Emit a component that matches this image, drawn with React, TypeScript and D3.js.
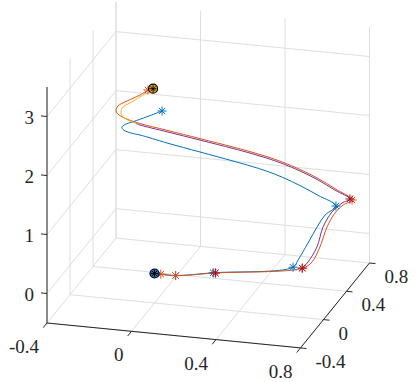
import React from "react";
import * as d3 from "d3";

type P3 = [number, number, number];

// axis limits and ticks
const xLim = [-0.4, 0.8];
const yLim = [-0.4, 0.8];
const zLim = [-0.5, 3.5];
const xTicks = [-0.4, 0, 0.4, 0.8];
const yTicks = [-0.4, 0, 0.4, 0.8];
const zTicks = [0, 1, 2, 3];

// trajectories (x, y, z)
const bluePath: P3[] = [
  [0, 0, 0], [0.1, 0, 0], [0.255, 0.085, 0], [0.585, 0.26, 0],
  [0.606, 0.27, 0.118], [0.645, 0.3, 0.384], [0.677, 0.34, 0.618],
  [0.704, 0.38, 0.783], [0.739, 0.44, 0.876], [0.661, 0.416, 1.059],
  [0.582, 0.391, 1.227], [0.508, 0.368, 1.364], [0.438, 0.346, 1.473],
  [0.364, 0.323, 1.566], [0.29, 0.3, 1.649], [0.146, 0.255, 1.805],
  [0.002, 0.21, 1.961], [-0.116, 0.174, 2.098], [-0.16, 0.16, 2.138],
  [-0.19, 0.15, 2.194], [-0.195, 0.15, 2.235], [-0.18, 0.15, 2.282],
  [-0.142, 0.15, 2.343], [-0.076, 0.15, 2.451], [-0.005, 0.15, 2.573],
];

const orangePath: P3[] = [
  [0, 0, 0], [0.03, 0, 0], [0.1, 0, 0], [0.265, 0.085, 0], [0.63, 0.26, 0],
  [0.672, 0.27, 0.108], [0.704, 0.29, 0.349], [0.727, 0.33, 0.648],
  [0.751, 0.38, 0.834], [0.773, 0.44, 0.905], [0.799, 0.5, 0.927],
  [0.725, 0.477, 1.12], [0.651, 0.453, 1.296], [0.572, 0.429, 1.45],
  [0.498, 0.405, 1.574], [0.428, 0.384, 1.67], [0.354, 0.36, 1.759],
  [0.28, 0.337, 1.838], [0.136, 0.292, 1.984], [-0.008, 0.247, 2.128],
  [-0.126, 0.21, 2.246], [-0.172, 0.17, 2.346], [-0.206, 0.14, 2.446],
  [-0.215, 0.12, 2.535], [-0.2, 0.1, 2.649], [-0.157, 0.1, 2.748],
  [-0.096, 0.1, 2.872], [-0.058, 0.1, 2.97],
];

const yellowPath: P3[] = [
  [-0.039, 0.1, 2.96], [-0.082, 0.1, 2.877], [-0.134, 0.1, 2.74],
  [-0.176, 0.1, 2.64], [-0.191, 0.12, 2.526], [-0.19, 0.15, 2.406],
  [-0.142, 0.2, 2.253],
];

const purplePath: P3[] = [
  [-0.142, 0.2, 2.253], [-0.126, 0.21, 2.221], [-0.008, 0.247, 2.103],
  [0.136, 0.292, 1.959], [0.28, 0.337, 1.813], [0.354, 0.36, 1.734],
  [0.428, 0.384, 1.645], [0.498, 0.405, 1.549], [0.572, 0.429, 1.425],
  [0.651, 0.453, 1.271], [0.725, 0.477, 1.095], [0.789, 0.5, 0.941],
  [0.768, 0.44, 0.937], [0.737, 0.38, 0.846], [0.708, 0.33, 0.641],
  [0.69, 0.29, 0.344], [0.653, 0.27, 0.101], [0.628, 0.26, 0],
];

// waypoint markers
const blueStars: P3[] = [
  [0.1, 0, 0], [0.255, 0.085, 0], [0.585, 0.26, 0], [0.739, 0.44, 0.876], [-0.005, 0.15, 2.573],
];
const orangeStars: P3[] = [
  [0.03, 0, 0], [0.1, 0, 0], [0.265, 0.085, 0], [0.63, 0.26, 0], [0.799, 0.5, 0.927], [-0.058, 0.1, 2.97],
];
const purpleStars: P3[] = [[0.265, 0.085, 0], [0.628, 0.26, 0], [0.789, 0.5, 0.941]];
const startPoint: P3 = [0, 0, 0];
const goalPoint: P3 = [-0.034, 0.1, 3.0];

// view: screen position of the (xmin, ymin, zmin) corner and axis spans
const ORIGIN = [47, 323];
const EX = [253.5, 24.9];
const EY = [69, -84.9];
const EZ = [0, -236];

const sx = d3.scaleLinear().domain(xLim).range([0, 1]);
const sy = d3.scaleLinear().domain(yLim).range([0, 1]);
const sz = d3.scaleLinear().domain(zLim).range([0, 1]);

const project = (p: P3): [number, number] => {
  const a = sx(p[0]), b = sy(p[1]), c = sz(p[2]);
  return [
    ORIGIN[0] + a * EX[0] + b * EY[0] + c * EZ[0],
    ORIGIN[1] + a * EX[1] + b * EY[1] + c * EZ[1],
  ];
};

const unit = (v: number[]) => {
  const l = Math.hypot(v[0], v[1]);
  return [v[0] / l, v[1] / l];
};

const line = d3.line<P3>()
  .x((d) => project(d)[0])
  .y((d) => project(d)[1])
  .curve(d3.curveCatmullRom.alpha(0.5));

const FONT = '"Times New Roman", Tinos, "Liberation Serif", "DejaVu Serif", serif';
const GRID = "#dedede";
const AX = "#262626";

const Star = ({ p, color, r = 4.5 }: { p: P3; color: string; r?: number }) => {
  const [cx, cy] = project(p);
  const d = r * 0.7071;
  return (
    <g stroke={color} strokeWidth={1}>
      <line x1={cx - r} y1={cy} x2={cx + r} y2={cy} />
      <line x1={cx} y1={cy - r} x2={cx} y2={cy + r} />
      <line x1={cx - d} y1={cy - d} x2={cx + d} y2={cy + d} />
      <line x1={cx - d} y1={cy + d} x2={cx + d} y2={cy - d} />
    </g>
  );
};

export default function App() {
  const [x0, x1] = xLim;
  const [y0, y1] = yLim;
  const [z0, z1] = zLim;

  const grid: [P3, P3][] = [];
  xTicks.forEach((x) => {
    grid.push([[x, y0, z0], [x, y1, z0]]);
    grid.push([[x, y1, z0], [x, y1, z1]]);
  });
  yTicks.forEach((y) => {
    grid.push([[x0, y, z0], [x1, y, z0]]);
    grid.push([[x0, y, z0], [x0, y, z1]]);
  });
  zTicks.forEach((z) => {
    grid.push([[x0, y1, z], [x1, y1, z]]);
    grid.push([[x0, y0, z], [x0, y1, z]]);
  });

  const axes: [P3, P3][] = [
    [[x0, y0, z0], [x1, y0, z0]],
    [[x1, y0, z0], [x1, y1, z0]],
    [[x0, y0, z0], [x0, y0, z1]],
  ];

  const tl = 6;
  const dX = unit([-EY[0], -EY[1]]);
  const dY = unit(EX);
  const dZ = unit([-EX[0], -EX[1]]);

  const seg = (a: P3, b: P3, key: string, stroke: string) => {
    const [ax, ay] = project(a);
    const [bx, by] = project(b);
    return <line key={key} x1={ax} y1={ay} x2={bx} y2={by} stroke={stroke} strokeWidth={1} />;
  };

  const [sxp, syp] = project(startPoint);
  const [gxp, gyp] = project(goalPoint);

  return (
    <svg width={415} height={382} style={{ position: "absolute", left: 0, top: 0, background: "#fff" }}>
      <g>{grid.map((g, i) => seg(g[0], g[1], "g" + i, GRID))}</g>
      <g>{axes.map((g, i) => seg(g[0], g[1], "a" + i, AX))}</g>

      <g fontFamily={FONT} fontSize={19} fill={AX}>
        {xTicks.map((x) => {
          const [px, py] = project([x, y0, z0]);
          return (
            <g key={"xt" + x}>
              <line x1={px} y1={py} x2={px + dX[0] * tl} y2={py + dX[1] * tl} stroke={AX} />
              <text x={px - 8} y={py + 30} textAnchor="end">{x}</text>
            </g>
          );
        })}
        {yTicks.map((y) => {
          const [px, py] = project([x1, y, z0]);
          return (
            <g key={"yt" + y}>
              <line x1={px} y1={py} x2={px + dY[0] * tl} y2={py + dY[1] * tl} stroke={AX} />
              <text x={px + 15} y={py + 20} textAnchor="start">{y}</text>
            </g>
          );
        })}
        {zTicks.map((z) => {
          const [px, py] = project([x0, y0, z]);
          return (
            <g key={"zt" + z}>
              <line x1={px} y1={py} x2={px + dZ[0] * tl} y2={py + dZ[1] * tl} stroke={AX} />
              <text x={px - 13} y={py + 7} textAnchor="end">{z}</text>
            </g>
          );
        })}
      </g>

      <g fill="none" strokeWidth={1}>
        <path d={line(bluePath) || ""} stroke="#0072BD" />
        <path d={line(orangePath) || ""} stroke="#D95319" />
        <path d={line(yellowPath) || ""} stroke="#EDB120" />
        <path d={line(purplePath) || ""} stroke="#7E2F8E" />
      </g>

      {blueStars.map((p, i) => <Star key={"bs" + i} p={p} color="#0072BD" />)}
      {orangeStars.map((p, i) => <Star key={"os" + i} p={p} color="#D95319" />)}
      {purpleStars.map((p, i) => <Star key={"ps" + i} p={p} color="#A2142F" />)}

      <circle cx={sxp} cy={syp} r={4.5} fill="#0072BD" stroke="#000" strokeWidth={1.2} />
      <Star p={startPoint} color="#000" r={3.5} />
      <circle cx={gxp} cy={gyp} r={4.5} fill="#EDB120" stroke="#000" strokeWidth={1.2} />
      <Star p={goalPoint} color="#000" r={3.5} />
    </svg>
  );
}
